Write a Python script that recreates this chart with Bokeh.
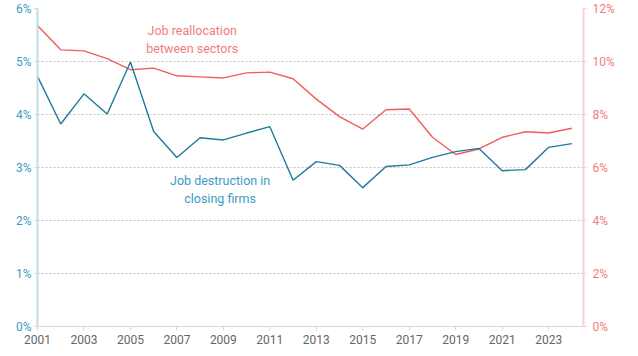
from bokeh.plotting import figure
from bokeh.models import Range1d, LinearAxis, FixedTicker, CustomJSTickFormatter, Label
from bokeh.embed import file_html
from bokeh.resources import INLINE

years = list(range(2001, 2025))
destruction = [4.72, 3.82, 4.39, 4.01, 4.99, 3.68, 3.19, 3.56, 3.52, 3.65, 3.77, 2.76,
               3.11, 3.04, 2.62, 3.02, 3.05, 3.19, 3.30, 3.36, 2.94, 2.96, 3.38, 3.45]
reallocation = [11.36, 10.44, 10.40, 10.11, 9.69, 9.75, 9.46, 9.42, 9.38, 9.57, 9.60, 9.35,
                8.58, 7.92, 7.45, 8.18, 8.21, 7.14, 6.49, 6.70, 7.14, 7.35, 7.30, 7.48]
left_ticks = [0, 1, 2, 3, 4, 5, 6]
right_ticks = [0, 2, 4, 6, 8, 10, 12]
x_ticks = list(range(2001, 2024, 2))

RED = "#f25c5c"
RED_LBL = "#f27c7c"
BLUE = "#1f7a9c"
BLUE_LBL = "#3c9cc2"
FONT = "Roboto"

p = figure(width=638, height=356, output_backend="svg", toolbar_location=None,
           x_range=Range1d(2001, 2024.5), y_range=Range1d(0, 6),
           min_border_left=37, min_border_right=55, min_border_top=8, min_border_bottom=30)
p.outline_line_color = None
p.background_fill_color = "white"
p.border_fill_color = "white"
p.extra_y_ranges = {"right": Range1d(0, 12)}

# axes
p.xaxis.ticker = FixedTicker(ticks=x_ticks)
p.xaxis.axis_line_color = "#d8d8d8"
p.xaxis.major_tick_line_color = "#d8d8d8"
p.xaxis.major_tick_out = 4
p.xaxis.major_tick_in = 0
p.xaxis.minor_tick_line_color = None
p.xaxis.major_label_text_color = "#666666"
p.xaxis.major_label_text_font = FONT
p.xaxis.major_label_text_font_size = "12px"
p.xaxis.major_label_standoff = 4

p.yaxis.ticker = FixedTicker(ticks=left_ticks)
p.yaxis.formatter = CustomJSTickFormatter(code="return tick + '%';")
p.yaxis.axis_line_color = "#bcdde9"
p.yaxis.axis_line_width = 2
p.yaxis.major_tick_line_color = "#bcdde9"
p.yaxis.major_tick_out = 3
p.yaxis.major_tick_in = 0
p.yaxis.minor_tick_line_color = None
p.yaxis.major_label_text_color = BLUE_LBL
p.yaxis.major_label_text_font = FONT
p.yaxis.major_label_text_font_size = "12px"
p.yaxis.major_label_standoff = 3

ra = LinearAxis(y_range_name="right", ticker=FixedTicker(ticks=right_ticks),
                formatter=CustomJSTickFormatter(code="return tick + '%';"))
ra.axis_line_color = "#fbd0d0"
ra.axis_line_width = 2
ra.major_tick_line_color = "#fbd0d0"
ra.major_tick_out = 3
ra.major_tick_in = 0
ra.minor_tick_line_color = None
ra.major_label_text_color = RED_LBL
ra.major_label_text_font = FONT
ra.major_label_text_font_size = "12px"
ra.major_label_standoff = 6
p.add_layout(ra, "right")

p.xgrid.grid_line_color = None
p.ygrid.ticker = FixedTicker(ticks=[1, 2, 3, 4, 5, 6])
p.ygrid.grid_line_color = "#c4c4c4"
p.ygrid.grid_line_dash = "2 2"
p.ygrid.grid_line_width = 1

p.line(years, reallocation, y_range_name="right", line_color=RED, line_width=1.4)
p.line(years, destruction, line_color=BLUE, line_width=1.4)

p.add_layout(Label(x=2007.66, y=5.41, text="Job reallocation\nbetween sectors",
                   text_align="center", text_baseline="middle", text_color=RED_LBL,
                   text_font=FONT, text_font_size="12.5px", text_line_height=1.2))
p.add_layout(Label(x=2008.86, y=2.58, text="Job destruction in\nclosing firms",
                   text_align="center", text_baseline="middle", text_color=BLUE_LBL,
                   text_font=FONT, text_font_size="12.5px", text_line_height=1.2))

open("out.html", "w").write(file_html(p, INLINE))
